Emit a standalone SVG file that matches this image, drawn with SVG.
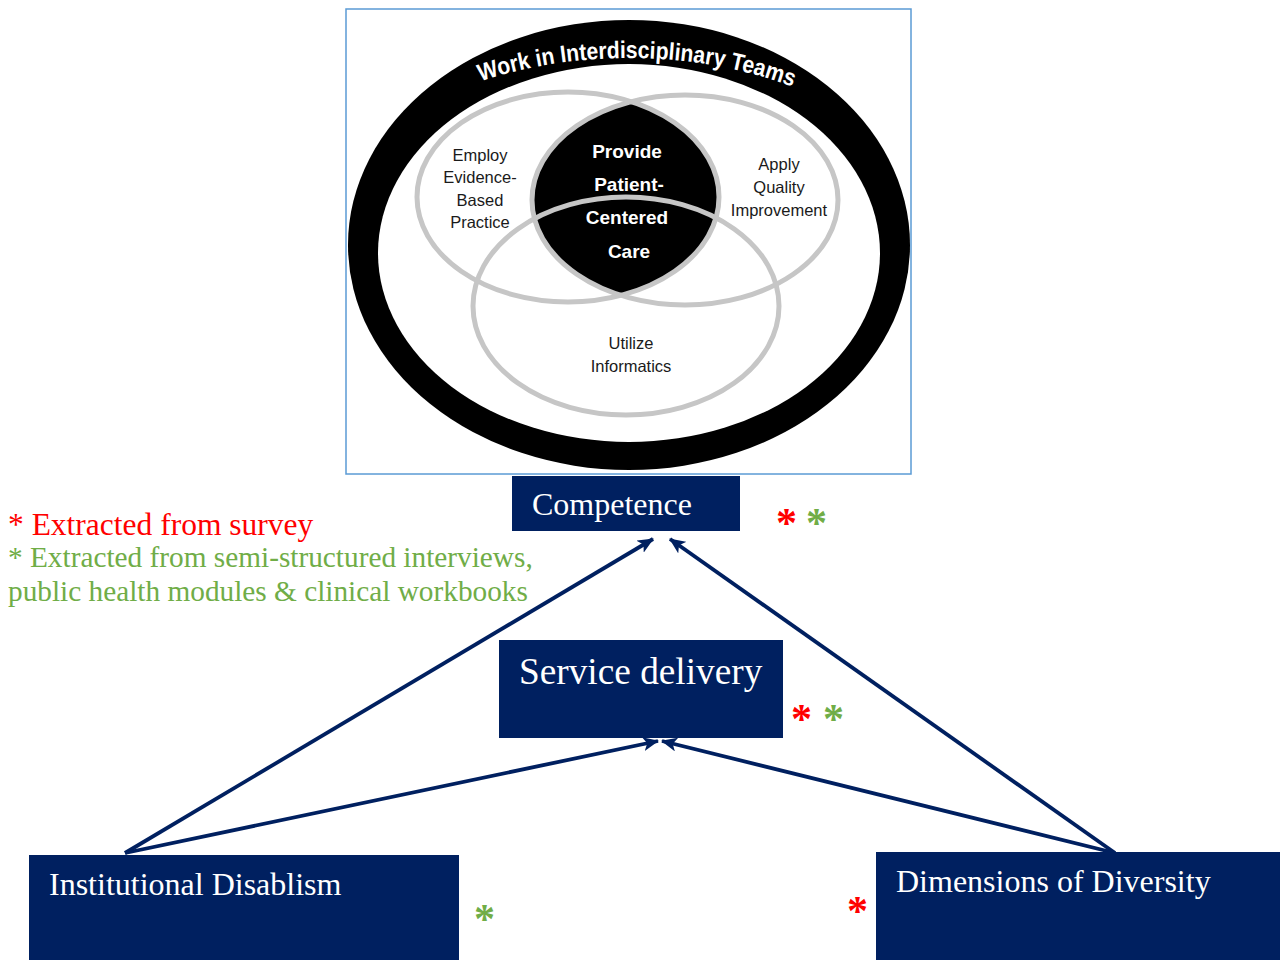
<svg xmlns="http://www.w3.org/2000/svg" width="1280" height="960" viewBox="0 0 1280 960">
  <style>
    .box { fill: #002060; }
    .boxText { fill: #ffffff; font-family: "Liberation Serif", "Times New Roman", serif; }
    .venn { fill: none; stroke: #c6c6c6; stroke-width: 5; }
    .vennText { fill: #1a1a1a; font-family: "Liberation Sans", Arial, sans-serif; font-size: 16.5px; text-anchor: middle; }
    .coreText { fill: #ffffff; font-family: "Liberation Sans", Arial, sans-serif; font-size: 19px; font-weight: bold; text-anchor: middle; }
    .conn { stroke: #002060; stroke-width: 3.8; fill: none; marker-end: url(#stealth); }
    .star { font-family: "Liberation Serif", "Times New Roman", serif; font-weight: bold; font-size: 42px; }
    .red { fill: #ff0000; }
    .green { fill: #70ad47; }
    .legend { font-family: "Liberation Serif", "Times New Roman", serif; }
  </style>
  <defs>
    <marker id="stealth" viewBox="0 0 16 14" refX="15" refY="7" markerWidth="16" markerHeight="14" markerUnits="userSpaceOnUse" orient="auto">
      <path d="M0,0 L16,7 L0,14 L4,7 Z" fill="#002060"/>
    </marker>
    <clipPath id="leftClip">
      <ellipse cx="568" cy="197" rx="151" ry="105"/>
    </clipPath>
    <path id="ringArc" d="M319,250 A310,192 0 0 1 939,250"/>
  </defs>

  <rect x="0" y="0" width="1280" height="960" fill="#ffffff"/>

  <!-- Framed QSEN competency figure -->
  <g id="qsen-figure">
    <rect x="346" y="9" width="565" height="465" fill="#ffffff" stroke="#5b9bd5" stroke-width="1.5"/>
    <ellipse cx="629" cy="245" rx="281" ry="225" fill="#000000"/>
    <ellipse cx="629" cy="253" rx="251" ry="189" fill="#ffffff"/>
    <text font-family="Liberation Sans, Arial, sans-serif" font-weight="bold" font-size="24" fill="#ffffff">
      <textPath href="#ringArc" startOffset="51%" text-anchor="middle" textLength="318" lengthAdjust="spacingAndGlyphs">Work in Interdisciplinary Teams</textPath>
    </text>
    <!-- central lens: overlap of the two upper circles -->
    <ellipse cx="685" cy="200" rx="153" ry="105" fill="#000000" clip-path="url(#leftClip)"/>
    <ellipse class="venn" cx="568" cy="197" rx="151" ry="105"/>
    <ellipse class="venn" cx="685" cy="200" rx="153" ry="105"/>
    <ellipse class="venn" cx="626" cy="306" rx="153" ry="109"/>
    <text class="vennText" x="480" y="161">Employ</text>
    <text class="vennText" x="480" y="183">Evidence-</text>
    <text class="vennText" x="480" y="206">Based</text>
    <text class="vennText" x="480" y="228">Practice</text>
    <text class="vennText" x="779" y="170">Apply</text>
    <text class="vennText" x="779" y="193">Quality</text>
    <text class="vennText" x="779" y="216">Improvement</text>
    <text class="vennText" x="631" y="349">Utilize</text>
    <text class="vennText" x="631" y="372">Informatics</text>
    <text class="coreText" x="627" y="158">Provide</text>
    <text class="coreText" x="629" y="191">Patient-</text>
    <text class="coreText" x="627" y="224">Centered</text>
    <text class="coreText" x="629" y="258">Care</text>
  </g>

  <!-- Legend -->
  <g id="legend">
    <text class="legend" x="8" y="535" font-size="31.5" fill="#ff0000">* Extracted from survey</text>
    <text class="legend" x="8" y="567" font-size="29.3" fill="#70ad47">* Extracted from semi-structured interviews,</text>
    <text class="legend" x="8" y="601" font-size="29.3" fill="#70ad47">public health modules &amp; clinical workbooks</text>
  </g>

  <!-- Connectors -->
  <g id="connectors">
    <line class="conn" x1="125" y1="853" x2="653" y2="539"/>
    <line class="conn" x1="1115" y1="853" x2="670" y2="539"/>
    <line class="conn" x1="125" y1="853" x2="658" y2="741"/>
    <line class="conn" x1="1115" y1="853" x2="662" y2="741"/>
  </g>

  <g id="competence">
    <rect class="box" x="512" y="476" width="228" height="55"/>
    <text class="boxText" x="532" y="515" font-size="32">Competence</text>
    <text class="star red" x="776" y="537">*</text>
    <text class="star green" x="806" y="537">*</text>
  </g>

  <g id="service-delivery">
    <rect class="box" x="499" y="640" width="284" height="98"/>
    <text class="boxText" x="519" y="684" font-size="37.3">Service delivery</text>
    <text class="star red" x="791" y="733">*</text>
    <text class="star green" x="823" y="733">*</text>
  </g>

  <g id="institutional-disablism">
    <rect class="box" x="29" y="855" width="430" height="105"/>
    <text class="boxText" x="49" y="895" font-size="32">Institutional Disablism</text>
    <text class="star green" x="474" y="933">*</text>
  </g>

  <g id="dimensions-of-diversity">
    <rect class="box" x="876" y="852" width="404" height="108"/>
    <text class="boxText" x="896" y="892" font-size="32">Dimensions of Diversity</text>
    <text class="star red" x="847" y="925">*</text>
  </g>
</svg>
